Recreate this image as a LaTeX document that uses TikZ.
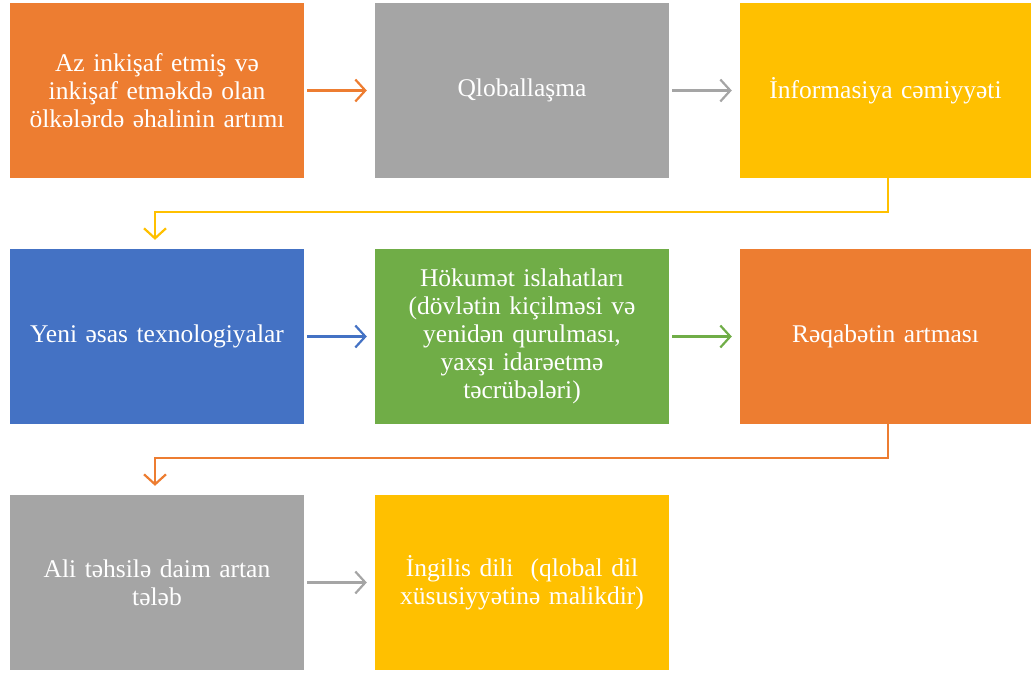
\documentclass[tikz,border=0pt]{standalone}
\usepackage{fontspec}
\setmainfont{Liberation Serif}
\usetikzlibrary{arrows.meta}
\definecolor{corange}{HTML}{ED7D31}
\definecolor{cgray}{HTML}{A5A5A5}
\definecolor{cgold}{HTML}{FFC000}
\definecolor{cblue}{HTML}{4472C4}
\definecolor{cgreen}{HTML}{70AD47}
\begin{document}
\begin{tikzpicture}[x=1pt,y=1pt,
  box/.style={draw=none, fill=#1, minimum width=294pt, minimum height=175pt,
    text width=285pt, align=center, text=white, inner sep=0pt,
    font=\fontsize{25.5}{28}\selectfont},
  conn/.style={draw=#1, line width=2.2pt, -{Straight Barb[length=10pt,width=22pt,line width=2.2pt]}}]
\useasboundingbox (0,0) rectangle (1031,673);
% row 1
\node[box=corange] (b1) at (157,582.5) {Az inkişaf etmiş və\\inkişaf etməkdə olan\\ölkələrdə əhalinin artımı};
\node[box=cgray] (b2) at (522,582.5) {Qloballaşma};
\node[box=cgold, minimum width=291pt] (b3) at (885.5,582.5) {İnformasiya cəmiyyəti};
% row 2
\node[box=cblue] (b4) at (157,336.5) {Yeni əsas texnologiyalar};
\node[box=cgreen] (b5) at (522,336.5) {Hökumət islahatları\\(dövlətin kiçilməsi və\\yenidən qurulması,\\yaxşı idarəetmə\\təcrübələri)};
\node[box=corange, minimum width=291pt] (b6) at (885.5,336.5) {Rəqabətin artması};
% row 3
\node[box=cgray] (b7) at (157,90.5) {Ali təhsilə daim artan\\tələb};
\node[box=cgold] (b8) at (522,90.5) {İngilis dili\ \ (qlobal dil\\xüsusiyyətinə malikdir)};
% coordinates
\coordinate (e1) at (888,461);
\coordinate (e2) at (155,461);
\coordinate (e3) at (888,215);
\coordinate (e4) at (155,215);
% connectors
\draw[conn=corange] ([xshift=3pt]b1.east) -- ([xshift=-8pt]b2.west);
\draw[conn=cgray] ([xshift=3pt]b2.east) -- ([xshift=-8pt]b3.west);
\draw[conn=cgold] (b3.south -| e1) -- (e1) -- (e2) -- ([yshift=9pt]b4.north -| e2);
\draw[conn=cblue] ([xshift=3pt]b4.east) -- ([xshift=-8pt]b5.west);
\draw[conn=cgreen] ([xshift=3pt]b5.east) -- ([xshift=-8pt]b6.west);
\draw[conn=corange] (b6.south -| e3) -- (e3) -- (e4) -- ([yshift=9pt]b7.north -| e4);
\draw[conn=cgray] ([xshift=3pt]b7.east) -- ([xshift=-8pt]b8.west);
\end{tikzpicture}
\end{document}
